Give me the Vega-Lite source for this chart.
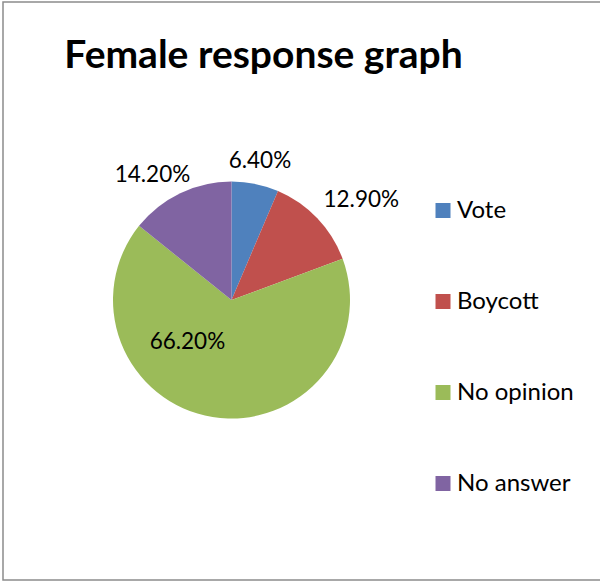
{
  "$schema": "https://vega.github.io/schema/vega-lite/v6.json",
  "autosize": {"type": "none"},
  "padding": {"left": 3, "top": 2, "right": 0, "bottom": 2},
  "width": 600,
  "height": 578,
  "background": "white",
  "view": {"stroke": "#8c8c8c", "strokeWidth": 1.5},
  "config": {
    "view": {"stroke": "#8c8c8c", "strokeWidth": 1.5},
    "font": "Lato"
  },
  "title": {
    "text": "Female response graph",
    "font": "Lato",
    "fontSize": 39,
    "fontWeight": "bold",
    "color": "#000000",
    "anchor": "middle",
    "frame": "group",
    "baseline": "alphabetic",
    "offset": -67,
    "dy": 38,
    "dx": -39.5
  },
  "data": {
    "values": [
      {"category": "Vote", "value": 6.4, "label": "6.40%", "rank": 1},
      {"category": "Boycott", "value": 12.9, "label": "12.90%", "rank": 2},
      {"category": "No opinion", "value": 66.2, "label": "66.20%", "rank": 3},
      {"category": "No answer", "value": 14.2, "label": "14.20%", "rank": 4}
    ]
  },
  "encoding": {
    "theta": {"field": "value", "type": "quantitative", "stack": true},
    "order": {"field": "rank", "type": "quantitative", "sort": "ascending"}
  },
  "layer": [
    {
      "mark": {"type": "arc", "outerRadius": 118.5, "xOffset": -71.5, "yOffset": 9, "strokeWidth": 0},
      "encoding": {
        "color": {
          "field": "category",
          "type": "nominal",
          "sort": null,
          "scale": {
            "domain": ["Vote", "Boycott", "No opinion", "No answer"],
            "range": ["#4F81BD", "#C0504D", "#9BBB59", "#8064A2"]
          },
          "legend": {
            "orient": "none",
            "legendX": 428,
            "legendY": 196.5,
            "title": null,
            "padding": 0,
            "symbolType": "square",
            "symbolSize": 225,
            "symbolStrokeWidth": 0,
            "labelFont": "Lato",
            "labelFontSize": 24,
            "labelColor": "#000000",
            "labelOffset": 2,
            "rowPadding": 67,
            "labelLimit": 300
          }
        }
      }
    },
    {
      "mark": {"type": "text", "radius": 142, "xOffset": -71.5, "yOffset": 9, "fontSize": 22.5, "font": "Lato", "color": "#000000", "align": "center", "baseline": "middle"},
      "encoding": {
        "text": {"condition": {"test": "datum.category === 'Vote'", "field": "label"}, "value": ""}
      }
    },
    {
      "mark": {"type": "text", "radius": 164, "xOffset": -71.5, "yOffset": 9, "dx": 11, "dy": 13, "fontSize": 22.5, "font": "Lato", "color": "#000000", "align": "center", "baseline": "middle"},
      "encoding": {
        "text": {"condition": {"test": "datum.category === 'Boycott'", "field": "label"}, "value": ""}
      }
    },
    {
      "mark": {"type": "text", "radius": 148, "xOffset": -71.5, "yOffset": 9, "dx": -15, "dy": 8.5, "fontSize": 22.5, "font": "Lato", "color": "#000000", "align": "center", "baseline": "middle"},
      "encoding": {
        "text": {"condition": {"test": "datum.category === 'No answer'", "field": "label"}, "value": ""}
      }
    },
    {
      "mark": {"type": "text", "radius": 60, "xOffset": -71.5, "yOffset": 9, "dx": -34.5, "dy": -17.5, "fontSize": 22.5, "font": "Lato", "color": "#000000", "align": "center", "baseline": "middle"},
      "encoding": {
        "text": {"condition": {"test": "datum.category === 'No opinion'", "field": "label"}, "value": ""}
      }
    }
  ]
}
